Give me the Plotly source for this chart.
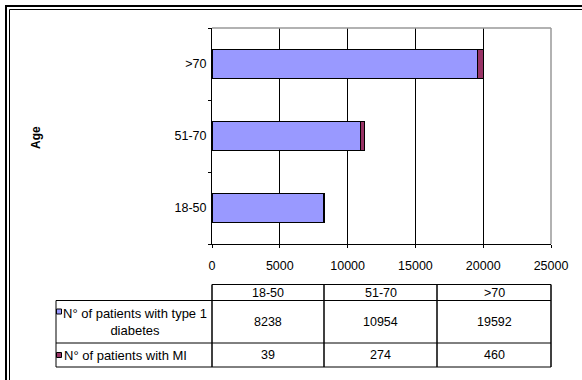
import plotly.graph_objects as go

# ---- data ----
age_groups = ["18-50", "51-70", ">70"]
diabetes_t1 = [8238, 10954, 19592]
mi_patients = [39, 274, 460]
series_names = ["N° of patients with type 1<br>diabetes", "N° of patients with MI"]
series_colors = ["#9999FF", "#993366"]
x_ticks = [0, 5000, 10000, 15000, 20000, 25000]

W, H = 582, 380
FONT = "Liberation Sans, Arial, sans-serif"

def px(x):
    return x / W

def py(y):
    return 1 - y / H

fig = go.Figure()
for vals, name, col in zip([diabetes_t1, mi_patients], series_names, series_colors):
    fig.add_trace(go.Bar(
        y=age_groups, x=vals, orientation="h", name=name,
        marker=dict(color=col, line=dict(color="black", width=1)),
        showlegend=False,
    ))

# plot area in px
L, R, T, B = 212, 551, 28, 244

fig.update_layout(
    width=W, height=H, autosize=False,
    margin=dict(l=0, r=0, t=0, b=0, pad=0),
    paper_bgcolor="white", plot_bgcolor="white",
    barmode="stack", bargap=0.6,
    font=dict(family=FONT, size=11, color="black"),
    xaxis=dict(
        domain=[px(L), px(R)], range=[0, 25000], automargin=False,
        tickvals=x_ticks, ticktext=[str(v) for v in x_ticks],
        showgrid=True, gridcolor="black", gridwidth=1,
        showline=True, linecolor="black", linewidth=1,
        ticks="outside", ticklen=3, tickcolor="black",
        ticklabelstandoff=7, zeroline=False,
        tickfont=dict(size=12.5),
    ),
    yaxis=dict(
        domain=[py(B), py(T)], type="category", automargin=False,
        categoryorder="array", categoryarray=age_groups,
        showgrid=False, showline=True, linecolor="black", linewidth=1,
        ticks="outside", ticklen=3, tickcolor="black", tickson="boundaries",
        ticklabelstandoff=2,
        tickfont=dict(size=12.5),
    ),
)

shapes = []
def line(x0, y0, x1, y1, color="black", width=1):
    shapes.append(dict(type="line", xref="paper", yref="paper", x0=px(x0), x1=px(x1),
                       y0=py(y0), y1=py(y1), line=dict(color=color, width=width)))

# plot border top/right in gray
line(L, T, R, T, "#999999", 1.5)
line(R, T, R, B, "#999999", 1.5)

# outer double frame (top + left only; rest is outside the picture)
line(5, 6, W, 6, width=2)
line(6, 5, 6, H, width=2)
line(9.5, 9.5, W, 9.5)
line(9.5, 9.5, 9.5, H)

# data table
col_x = [56, 212, 324, 437, 551]
row_y = [284.5, 300.5, 343, 367]
line(col_x[1], row_y[0], col_x[4], row_y[0])
for yy in row_y[1:]:
    line(col_x[0], yy, col_x[4], yy)
line(col_x[0], row_y[1], col_x[0], row_y[3])
for xx in col_x[1:]:
    line(xx, row_y[0], xx, row_y[3], width=1.5)

annotations = []
def text(x, y, s, size=12.5, **kw):
    d = dict(x=px(x), y=py(y), xref="paper", yref="paper", text=s, showarrow=False,
             font=dict(size=size), xanchor="center", yanchor="middle")
    d.update(kw)
    annotations.append(d)

for i, cat in enumerate(age_groups):
    cx = (col_x[i + 1] + col_x[i + 2]) / 2
    text(cx, (row_y[0] + row_y[1]) / 2, cat)
    for r, vals in enumerate([diabetes_t1, mi_patients]):
        text(cx, (row_y[r + 1] + row_y[r + 2]) / 2, str(vals[i]))

# legend keys + names in table
for r, (name, col) in enumerate(zip(series_names, series_colors)):
    ymid = (row_y[r + 1] + row_y[r + 2]) / 2
    if r == 0:
        ky = 311.5
        text(135, ymid, name, size=13, align="center")
    else:
        ky = ymid
        text(62, ymid, name, size=13, xanchor="left")
    shapes.append(dict(type="rect", xref="paper", yref="paper", x0=px(56.5), x1=px(61.5),
                       y0=py(ky - 2.5), y1=py(ky + 2.5), fillcolor=col, line=dict(color="black", width=1)))

# Age axis title
text(36, 138, "<b>Age</b>", size=12, textangle=-90)

fig.update_layout(shapes=shapes, annotations=annotations)
fig.write_html("out.html", config={"displayModeBar": False},
               post_script="document.body.style.margin='0';")
